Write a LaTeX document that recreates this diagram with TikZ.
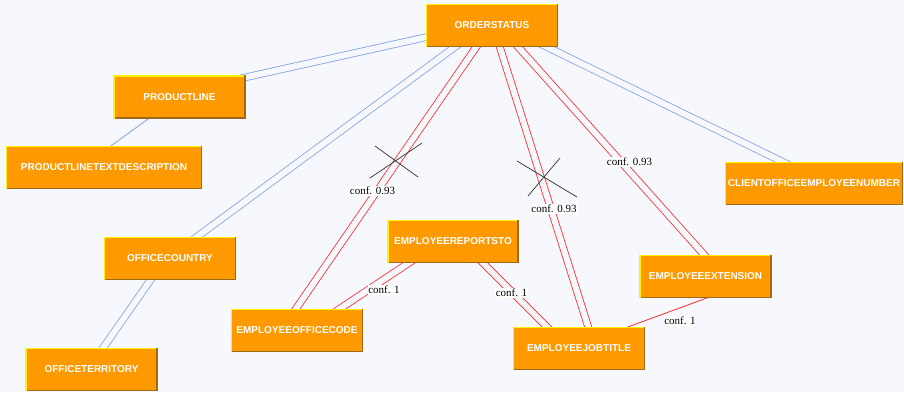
\documentclass[tikz,border=0pt]{standalone}
\usepackage{fontspec}
\setmainfont{Liberation Serif}
\newfontfamily\boxfont{Liberation Sans}
\usetikzlibrary{calc}
\definecolor{bgc}{HTML}{F6F8FE}
\definecolor{orng}{HTML}{FF9900}
\definecolor{ylw}{HTML}{FFF200}
\definecolor{brn}{HTML}{9E6A18}
\definecolor{bluel}{HTML}{7FA3E4}
\definecolor{redl}{HTML}{FF2A2A}
\definecolor{crossc}{HTML}{333333}
\pgfdeclarelayer{bglayer}
\pgfdeclarelayer{edgelayer}
\pgfsetlayers{bglayer,edgelayer,main}
\tikzset{
  box/.style={rectangle, fill=orng, minimum height=43pt, inner sep=0pt,
    text=white, font=\boxfont\fontsize{10}{12}\selectfont\bfseries},
  bdbl/.style={draw=bluel, line width=0.8pt, double=bgc, double distance=6pt},
  rdbl/.style={draw=redl, line width=0.8pt, double=bgc, double distance=6pt},
  bsgl/.style={draw=bluel, line width=0.8pt},
  rsgl/.style={draw=redl, line width=0.8pt},
  lbl/.style={fill=white, inner sep=0.6pt, font=\fontsize{11}{13}\selectfont},
  crossline/.style={draw=crossc, line width=0.7pt}
}
\newcommand\bx[5]{%
  \node[box, minimum width=#4pt] (#1) at (#2,#3) {#5};
  \draw[brn, line width=1.6pt] ([xshift=-0.8pt]#1.north east) -- ([xshift=-0.8pt,yshift=0.8pt]#1.south east) -- ([yshift=0.8pt]#1.south west);
  \draw[ylw, line width=1.2pt] ([xshift=0.6pt]#1.south west) -- ([xshift=0.6pt,yshift=-0.6pt]#1.north west) -- ([yshift=-0.6pt,xshift=-1.6pt]#1.north east);
}
\begin{document}
\begin{tikzpicture}[x=1pt,y=-1pt]
\begin{pgfonlayer}{bglayer}
\fill[bgc] (0,0) rectangle (904,392);
\end{pgfonlayer}
\useasboundingbox (0,0) rectangle (904,392);

\bx{os}{492}{25.5}{132}{ORDERSTATUS}
\bx{pl}{179.5}{97}{132}{PRODUCTLINE}
\bx{ptd}{104}{167.5}{196}{PRODUCTLINETEXTDESCRIPTION}
\bx{oc}{170}{258.5}{132}{OFFICECOUNTRY}
\bx{ot}{91.5}{369.5}{132}{OFFICETERRITORY}
\bx{ec}{297}{330.5}{132}{EMPLOYEEOFFICECODE}
\bx{er}{453}{241.5}{131}{EMPLOYEEREPORTSTO}
\bx{ej}{579}{348.5}{132}{EMPLOYEEJOBTITLE}
\bx{ee}{705.5}{276.5}{132}{EMPLOYEEEXTENSION}
\bx{cl}{814}{183.5}{178}{CLIENTOFFICEEMPLOYEENUMBER}

\begin{pgfonlayer}{edgelayer}
\draw[bdbl] ([yshift=3pt]os.center) -- ([yshift=5pt]pl.center);
\draw[bsgl] ([xshift=-1pt]pl.center) -- ([xshift=-23pt]ptd.center);
\draw[bdbl] ([xshift=-8pt]os.center) -- ([xshift=-2.5pt]oc.center);
\draw[bdbl] ([xshift=-4.5pt]oc.center) -- ([xshift=-3.5pt]ot.center);
\draw[bdbl] ([xshift=11pt]os.center) -- ([xshift=13pt]cl.center);
\draw[rdbl] ([xshift=-1pt]os.center) -- ([xshift=-16pt]ec.center);
\draw[rdbl] ([xshift=1pt]os.center) -- ([xshift=16pt]ej.center);
\draw[rdbl] ([xshift=7pt]os.center) -- ([xshift=18pt]ee.center);
\draw[rdbl] ([xshift=-12pt]er.center) -- ([xshift=10pt]ec.center);
\draw[rdbl] ([xshift=8.5pt]er.center) -- ([xshift=-10.5pt]ej.center);
\draw[rsgl] ([xshift=60pt]ee.center) -- ([xshift=-10pt]ej.center);
\end{pgfonlayer}

\coordinate (xa1) at (375,146); \coordinate (xa2) at (418,177);
\coordinate (xa3) at (370,178); \coordinate (xa4) at (422,143);
\coordinate (xb1) at (517,161); \coordinate (xb2) at (577,197);
\coordinate (xb3) at (528,196); \coordinate (xb4) at (560,158);
\draw[crossline] (xa1) -- (xa2);
\draw[crossline] (xa3) -- (xa4);
\draw[crossline] (xb1) -- (xb2);
\draw[crossline] (xb3) -- (xb4);

\node[lbl] (l1) at (372.5,191) {conf. 0.93};
\node[lbl] (l2) at (554,209) {conf. 0.93};
\node[lbl] (l3) at (629.5,162) {conf. 0.93};
\node[lbl] (l4) at (384,290) {conf. 1};
\node[lbl] (l5) at (511.5,293) {conf. 1};
\node[lbl] (l6) at (680,321) {conf. 1};
\end{tikzpicture}
\end{document}
